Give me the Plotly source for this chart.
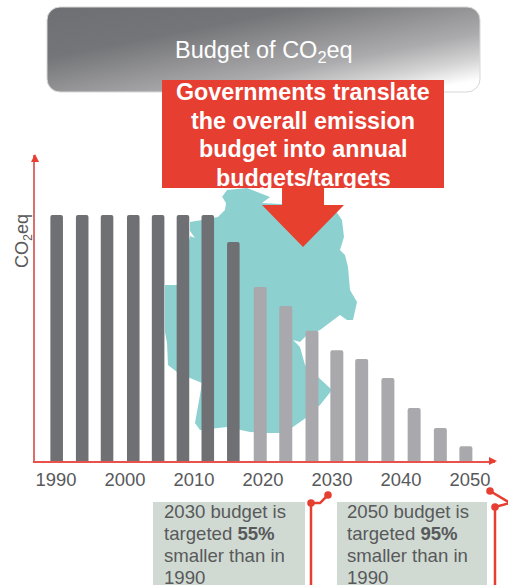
import base64
import plotly.graph_objects as go

# ---- data ----
years_hist = [1990.1, 1993.8, 1997.4, 2001.2, 2004.8, 2008.4, 2012.0, 2015.7]
values_hist = [100, 100, 100, 100, 100, 100, 100, 89]
years_target = [2019.6, 2023.3, 2027.1, 2030.7, 2034.3, 2038.1, 2041.9, 2045.7, 2049.4]
values_target = [70.7, 63, 53, 45, 41.5, 33.7, 21.5, 13.4, 6]
tick_years = [1990, 2000, 2010, 2020, 2030, 2040, 2050]
headline_lines = ["Governments translate", "the overall emission", "budget into annual", "budgets/targets"]
note_2030 = ["2030 budget is", "targeted <b>55%</b>", "smaller than in", "1990"]
note_2050 = ["2050 budget is", "targeted <b>95%</b>", "smaller than in", "1990"]

# Germany outline (decorative backdrop, page pixels)
germany = [(222,197),(227,190),(247,188),(270,197),(262,203),(300,205),(327,205),(333,207),(342,220),
           (344,237),(340,250),(345,255),(348,267),(350,290),(357,302),(353,320),(347,320),(340,315),
           (320,330),(306,336),(300,342),(293,340),(300,347),(305,365),(318,377),(332,390),(320,405),
           (307,417),(293,427),(280,433),(267,433),(250,432),(227,427),(200,430),(195,423),(200,395),
           (202,383),(190,378),(177,372),(168,365),(167,343),(165,332),(165,285),(177,285),(180,285),
           (190,236),(195,238),(190,231),(190,222),(202,220),(218,217),(220,230),(218,217),(225,210),
           (226,203),(221,195)]
arrow = [(282,188),(324,188),(324,205),(344,205),(303,247),(262,205),(282,205)]

# ---- style ----
W, H = 508, 585
L, R, T, B = 35, 13, 155, 124
PW, PH = W - L - R, H - T - B
RED = "#e63e31"
TXT = "#58595b"
FONT = "Liberation Sans, Arial, sans-serif"

def px(x): return (x - L) / PW
def py(y): return (T + PH - y) / PH

def path(points):
    return "M" + " L".join(f"{px(x):.4f},{py(y):.4f}" for x, y in points) + " Z"

def open_path(points):
    return "M" + " L".join(f"{px(x):.4f},{py(y):.4f}" for x, y in points)

def poly(points, color, layer="below"):
    return dict(type="path", xref="paper", yref="paper", path=path(points),
                fillcolor=color, line=dict(width=0), layer=layer)

def rect(x0, y0, x1, y1, color):
    return dict(type="rect", xref="paper", yref="paper", x0=px(x0), x1=px(x1), y0=py(y0), y1=py(y1),
                fillcolor=color, line=dict(width=0), layer="below")

def line(points, color=RED, width=2.5):
    return dict(type="path", xref="paper", yref="paper", path=open_path(points),
                line=dict(color=color, width=width), layer="above")

def dot(x, y, r=3.8):
    return dict(type="circle", xref="paper", yref="paper", x0=px(x-r), x1=px(x+r), y0=py(y+r), y1=py(y-r),
                fillcolor=RED, line=dict(width=0), layer="above")

def label(x, y, text, size, color=TXT, anchor="left", weight="normal", **kw):
    return dict(xref="paper", yref="paper", x=px(x), y=py(y), text=text, showarrow=False,
                xanchor=anchor, yanchor="middle", align=anchor,
                font=dict(family=FONT, size=size, color=color, weight=weight), **kw)

svg = f'''<svg xmlns="http://www.w3.org/2000/svg" width="435" height="87" viewBox="0 0 435 87">
<defs><linearGradient id="g" gradientUnits="userSpaceOnUse" x1="0" y1="0" x2="33" y2="167">
<stop offset="0" stop-color="#6e6f72"/><stop offset="0.3" stop-color="#747578"/>
<stop offset="0.5" stop-color="#949496"/><stop offset="0.65" stop-color="#ababad"/>
<stop offset="0.8" stop-color="#d5d5d5"/><stop offset="0.92" stop-color="#ffffff"/></linearGradient></defs>
<rect x="1" y="1" width="433" height="85" rx="13" ry="13" fill="url(#g)" stroke="#d8d8d8" stroke-width="1"/>
</svg>'''
svg_uri = "data:image/svg+xml;base64," + base64.b64encode(svg.encode()).decode()

fig = go.Figure()
fig.add_bar(x=years_hist, y=values_hist, width=1.82, marker=dict(color="#6f7073", line=dict(width=0)),
            name="Historic")
fig.add_bar(x=years_target, y=values_target, width=1.88, marker=dict(color="#a9a9ad", line=dict(width=0)),
            name="Targets")

shapes = [
    poly(germany, "#8cd0d0"),
    rect(162, 80, 444, 188, RED),
    poly(arrow, "#e8402f"),
    rect(153, 502, 305, 590, "#d0dad2"),
    rect(337, 502, 487, 590, "#d0dad2"),
    poly([(35, 154), (39, 162), (31, 162)], RED, "above"),
    poly([(497, 461), (489, 457), (489, 465)], RED, "above"),
    line([(328, 495), (320, 503), (311, 503), (311, 590)]),
    dot(328, 495), dot(311, 503),
    line([(490, 491), (510, 503), (495, 507), (495, 590)]),
    dot(490, 491), dot(495, 507),
]

annotations = [label(264, 51, "Budget of CO<sub>2</sub>eq", 23.5, "#ffffff", "center"),
               label(23, 241, "CO<sub>2</sub>eq", 18, TXT, "center", textangle=-90)]
for i, t in enumerate(headline_lines):
    annotations.append(label(303, 92 + i * 28.6, t, 23.3, "#ffffff", "center", "bold"))
for x0, note in ((162, note_2030), (345, note_2050)):
    for i, t in enumerate(note):
        extra = dict(height=16) if i == 3 else {}
        annotations.append(label(x0, 511 + i * 22, t, 18.6, **extra))

fig.update_layout(
    width=W, height=H, autosize=False,
    margin=dict(l=L, r=R, t=T, b=B, pad=0),
    paper_bgcolor="white", plot_bgcolor="rgba(0,0,0,0)",
    barmode="overlay", barcornerradius=2, showlegend=False,
    font=dict(family=FONT, color=TXT),
    shapes=shapes, annotations=annotations,
    images=[dict(source=svg_uri, xref="paper", yref="paper", x=px(46), y=py(6), sizex=435/PW, sizey=87/PH,
                 xanchor="left", yanchor="top", sizing="stretch", layer="below")],
    xaxis=dict(range=[1986.96, 2053.62], tickmode="array", tickvals=tick_years, showgrid=False, zeroline=False,
               showline=True, linecolor="#e8524a", linewidth=1.5, ticks="outside", ticklen=1,
               tickcolor="rgba(0,0,0,0)", tickfont=dict(family=FONT, size=18.4, color=TXT)),
    yaxis=dict(range=[0, 124.4], showticklabels=False, ticks="", showgrid=False, zeroline=False,
               showline=True, linecolor="#d9706c", linewidth=1.5),
)
fig.write_html("out.html", config=dict(displayModeBar=False),
               post_script="document.body.style.margin='0';document.body.style.overflow='hidden';")
